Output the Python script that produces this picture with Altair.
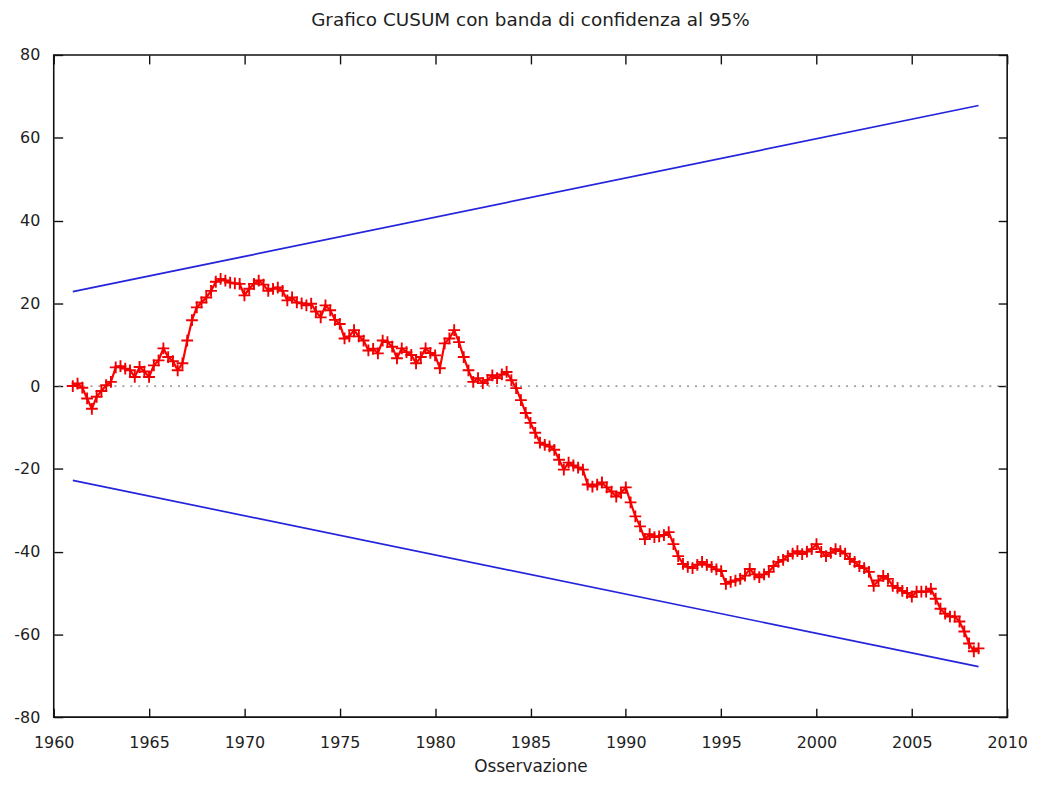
import altair as alt
import pandas as pd

# ---------------- data ----------------
title_text = "Grafico CUSUM con banda di confidenza al 95%"
x_title = "Osservazione"

start_year = 1961.0          # first observation
periods_per_year = 4         # quarterly observations

cusum = [
    0.0, 0.6, -0.4, -3.0,        # 1961
    -5.5, -2.6, -1.2, 0.2,       # 1962
    1.0, 4.5, 4.8, 4.2,          # 1963
    3.8, 2.2, 4.6, 3.5,          # 1964
    2.2, 5.0, 6.2, 9.1,          # 1965
    7.0, 6.0, 3.8, 5.5,          # 1966
    11.0, 15.9, 19.0, 20.2,      # 1967
    21.4, 23.0, 25.2, 25.9,      # 1968
    25.5, 25.0, 24.8, 24.7,      # 1969
    21.9, 23.5, 24.7, 25.5,      # 1970
    24.5, 23.0, 23.5, 23.8,      # 1971
    23.0, 20.7, 21.4, 20.2,      # 1972
    20.0, 19.5, 19.9, 18.0,      # 1973
    16.6, 19.5, 18.3, 16.0,      # 1974
    15.0, 11.5, 12.0, 13.5,      # 1975
    12.0, 11.0, 8.6, 9.0,        # 1976
    7.9, 11.0, 10.6, 9.5,        # 1977
    6.7, 9.1, 8.2, 7.5,          # 1978
    5.5, 7.0, 9.1, 8.0,          # 1979
    7.4, 4.3, 10.3, 11.5,        # 1980
    13.5, 10.6, 7.0, 3.8,        # 1981
    1.0, 1.9, 0.7, 1.5,          # 1982
    2.6, 1.9, 2.8, 3.4,          # 1983
    1.4, -0.5, -3.4, -6.5,       # 1984
    -8.9, -11.3, -13.7, -14.2,   # 1985
    -14.6, -15.4, -17.8, -20.2,  # 1986
    -18.5, -19.2, -19.7, -20.2,  # 1987
    -23.8, -24.3, -23.8, -23.3,  # 1988
    -24.5, -25.5, -26.7, -25.8,  # 1989
    -24.5, -28.1, -31.5, -33.9,  # 1990
    -37.0, -35.8, -36.5, -36.3,  # 1991
    -36.0, -35.3, -38.2, -41.1,  # 1992
    -43.0, -43.7, -44.0, -43.2,  # 1993
    -42.5, -43.2, -43.7, -44.3,  # 1994
    -44.7, -47.8, -47.3, -47.0,  # 1995
    -46.6, -45.8, -44.2, -45.5,  # 1996
    -46.2, -45.5, -44.9, -43.5,  # 1997
    -42.5, -42.0, -41.1, -40.5,  # 1998
    -39.9, -40.6, -40.0, -39.4,  # 1999
    -38.2, -40.1, -41.1, -40.3,  # 2000
    -39.4, -39.9, -40.5, -41.8,  # 2001
    -42.5, -43.5, -44.0, -44.9,  # 2002
    -48.3, -47.0, -45.9, -46.6,  # 2003
    -48.3, -48.8, -49.5, -50.0,  # 2004
    -50.9, -49.7, -49.7, -49.7,  # 2005
    -49.0, -51.4, -53.8, -55.0,  # 2006
    -55.7, -55.7, -56.9, -59.3,  # 2007
    -62.2, -64.1, -63.4,         # 2008
]

band_years = [1961.0, 2008.5]
band_upper = [22.8, 67.8]
band_lower = [-22.8, -67.8]

x_ticks = [1960, 1965, 1970, 1975, 1980, 1985, 1990, 1995, 2000, 2005, 2010]
y_ticks = [-80, -60, -40, -20, 0, 20, 40, 60, 80]
x_domain = [1960, 2010]
y_domain = [-80, 80]

# ---------------- tables ----------------
obs = [start_year + i / periods_per_year for i in range(len(cusum))]
df = pd.DataFrame({"anno": obs, "cusum": cusum})
band = pd.DataFrame({
    "anno": band_years + band_years,
    "valore": band_upper + band_lower,
    "limite": ["superiore"] * 2 + ["inferiore"] * 2,
})
zero = pd.DataFrame({"y": [0]})

FONT = "DejaVu Sans"
TXT = "#1e1e1e"
TICK = 9

xscale = alt.Scale(domain=x_domain, nice=False, zero=False)
yscale = alt.Scale(domain=y_domain, nice=False, zero=False)

common = dict(grid=False, domain=False, tickSize=TICK, offset=-TICK,
              tickColor="#111", tickWidth=1.4, labelFont=FONT, titleFont=FONT,
              labelColor=TXT, titleColor=TXT, labelOverlap=False)

x_bottom = alt.Axis(orient="bottom", values=x_ticks, labelExpr="'' + datum.value",
                    title=x_title, labelFontSize=16, titleFontSize=17,
                    titleFontWeight="normal", labelPadding=18, titlePadding=8,
                    labelFlush=False, **common)
y_left = alt.Axis(orient="left", values=y_ticks, labelExpr="'' + datum.value",
                  title=None, labelFontSize=16, labelPadding=14, **common)
x_top = alt.Axis(orient="top", values=x_ticks, labels=False, title=None, **common)
y_right = alt.Axis(orient="right", values=y_ticks, labels=False, title=None, **common)

zero_line = alt.Chart(zero).mark_rule(color="#7a7a7a", strokeDash=[2, 6],
                                      strokeWidth=1.3).encode(
    y=alt.Y("y:Q", scale=yscale, axis=None))

band_lines = alt.Chart(band).mark_line(color="#2424dc", strokeWidth=1.7).encode(
    x=alt.X("anno:Q", scale=xscale, axis=None),
    y=alt.Y("valore:Q", scale=yscale, axis=None),
    detail="limite:N")

cusum_line = alt.Chart(df).mark_line(color="#ff0000", strokeWidth=2.2).encode(
    x=alt.X("anno:Q", scale=xscale, axis=x_bottom),
    y=alt.Y("cusum:Q", scale=yscale, axis=y_left))

cusum_pts = alt.Chart(df).mark_point(shape="M-1,0H1M0,-1V1", filled=False,
                                     color="#f00000", size=140, strokeWidth=1.9,
                                     opacity=1).encode(
    x=alt.X("anno:Q", scale=xscale, axis=None),
    y=alt.Y("cusum:Q", scale=yscale, axis=None))

mirror = alt.Chart(band).mark_point(opacity=0).encode(
    x=alt.X("anno:Q", scale=xscale, axis=x_top),
    y=alt.Y("valore:Q", scale=yscale, axis=y_right))

chart = alt.layer(zero_line, band_lines, cusum_line, cusum_pts, mirror).resolve_axis(
    x="independent", y="independent"
).properties(
    width=959, height=666,
    title=alt.TitleParams(title_text, font=FONT, fontSize=18.5, fontWeight="normal",
                          color=TXT, anchor="middle", offset=18),
    autosize=alt.AutoSizeParams(type="none"),
    padding={"left": 46, "top": 45, "right": 30, "bottom": 58},
    background="white",
).configure_view(stroke="#111", strokeWidth=1.6)

chart.save("out.html", embed_options={"renderer": "svg", "actions": False})
